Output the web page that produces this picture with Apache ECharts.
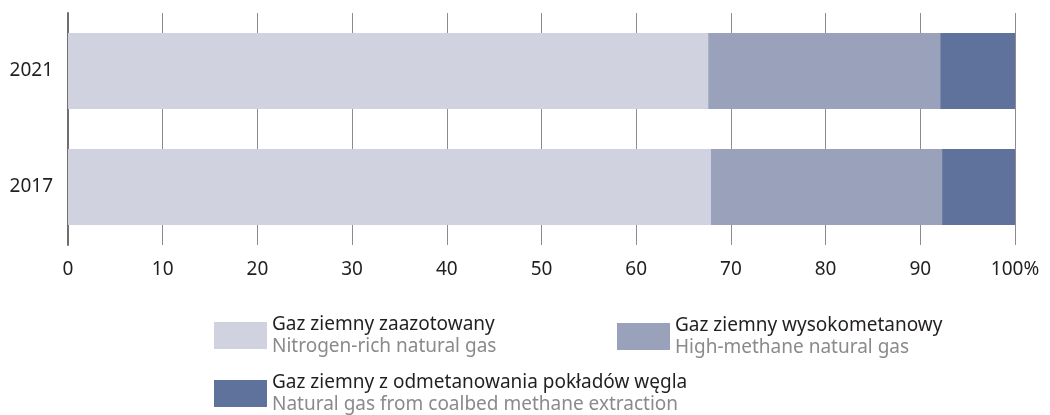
<!DOCTYPE html>
<html>
<head>
<meta charset="utf-8">
<script src="https://cdn.jsdelivr.net/npm/echarts@6/dist/echarts.min.js"></script>
<style>
  html, body { margin: 0; padding: 0; background: #fff; }
  #chart { width: 1050px; height: 415px; }
</style>
</head>
<body>
<div id="chart"></div>
<script>
// dane wykresu (udział w %)
var years = ['2017', '2021'];
var nitrogenRich = [67.9, 67.6];
var highMethane = [24.4, 24.5];
var coalbed = [7.7, 7.9];
var xTicks = [0, 10, 20, 30, 40, 50, 60, 70, 80, 90, 100];

var seriesNames = [
  'Gaz ziemny zaazotowany',
  'Gaz ziemny wysokometanowy',
  'Gaz ziemny z odmetanowania pokładów węgla'
];
var seriesNamesEn = [
  'Nitrogen-rich natural gas',
  'High-methane natural gas',
  'Natural gas from coalbed methane extraction'
];
var colors = ['#d0d3df', '#9aa1bb', '#5f729b'];

var font = 'Noto Sans';

var myChart = echarts.init(document.getElementById('chart'));

function legendAt(idx, left, top) {
  return {
    data: [seriesNames[idx]],
    left: left,
    top: top,
    orient: 'horizontal',
    icon: 'rect',
    itemWidth: 53,
    itemHeight: 27,
    selectedMode: false,
    formatter: function (name) {
      var i = seriesNames.indexOf(name);
      return '{a|' + name + '}\n{b|' + seriesNamesEn[i] + '}';
    },
    textStyle: {
      rich: {
        a: { fontFamily: font, fontSize: 19, color: '#231f20', lineHeight: 22 },
        b: { fontFamily: font, fontSize: 19, color: '#8a8a8a', lineHeight: 22 }
      }
    }
  };
}

var option = {
  animation: false,
  color: colors,
  grid: {
    left: 68,
    right: 35,
    top: 13,
    bottom: 170
  },
  legend: [
    legendAt(0, 209, 310),
    legendAt(1, 612, 311),
    legendAt(2, 209, 368)
  ],
  xAxis: {
    type: 'value',
    min: 0,
    max: 100,
    interval: 10,
    axisLine: { show: false },
    axisTick: { show: false },
    splitLine: {
      show: true,
      lineStyle: { color: '#8c8c8c', width: 1 }
    },
    axisLabel: {
      margin: 15,
      fontFamily: font,
      fontSize: 19,
      color: '#231f20',
      formatter: function (v) {
        return xTicks.indexOf(v) < 0 ? '' : (v === 100 ? v + '%' : String(v));
      }
    }
  },
  yAxis: {
    type: 'category',
    data: years,
    axisLine: {
      show: true,
      lineStyle: { color: '#6f6f6f', width: 2 }
    },
    axisTick: { show: false },
    axisLabel: {
      margin: 15,
      fontFamily: font,
      fontSize: 19,
      color: '#231f20'
    }
  },
  series: [
    { name: seriesNames[0], type: 'bar', stack: 'total', barCategoryGap: '34.5%', data: nitrogenRich },
    { name: seriesNames[1], type: 'bar', stack: 'total', data: highMethane },
    { name: seriesNames[2], type: 'bar', stack: 'total', data: coalbed }
  ]
};

myChart.setOption(option);
window.addEventListener('resize', function () {
  myChart.resize();
});
</script>
</body>
</html>
